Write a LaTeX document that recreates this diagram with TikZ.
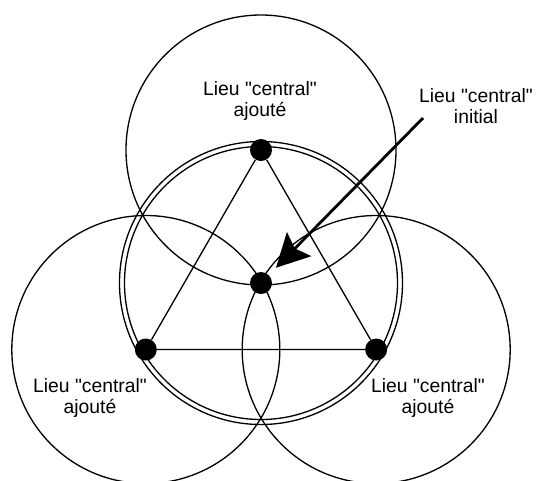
\documentclass[tikz,border=0pt]{standalone}
\usepackage{fontspec}
\setmainfont{Liberation Sans}[Ligatures=TeXOff]
\usetikzlibrary{arrows.meta}
\begin{document}
\begin{tikzpicture}[>={Stealth[length=0.66cm, width=0.68cm, inset=0.12cm]},
    font=\fontsize{11}{12}\selectfont,
    dot/.style={circle, fill=black, inner sep=0pt, minimum size=0.44cm},
    trait/.style={line width=0.75pt}]
  \useasboundingbox (-5.22,-3.94) rectangle (5.5,5.66);

  \node[dot] (C) at (0,0) {};
  \node[dot] (T) at (90:2.66) {};
  \node[dot] (L) at (210:2.66) {};
  \node[dot] (R) at (330:2.66) {};

  \draw[trait] (T) circle (2.70);
  \draw[trait] (L) circle (2.68);
  \draw[trait] (R) circle (2.68);
  \draw[trait] (C) circle (2.73);
  \draw[trait] (C) circle (2.83);

  \draw[trait] (T) -- (L) -- (R) -- (T);

  \node[align=center] (haut) at (-0.02,3.64) {Lieu "central"\\ajouté};
  \node[align=center] (init) at (4.30,3.54) {Lieu "central"\\initial};
  \node[align=center] (gauche) at (-3.42,-2.30) {Lieu "central"\\ajouté};
  \node[align=center] (droite) at (3.34,-2.30) {Lieu "central"\\ajouté};

  \coordinate (depart) at (3.24,3.30);
  \draw[->, line width=1.6pt, shorten >=0.2cm] (depart) -- (C);
\end{tikzpicture}
\end{document}
